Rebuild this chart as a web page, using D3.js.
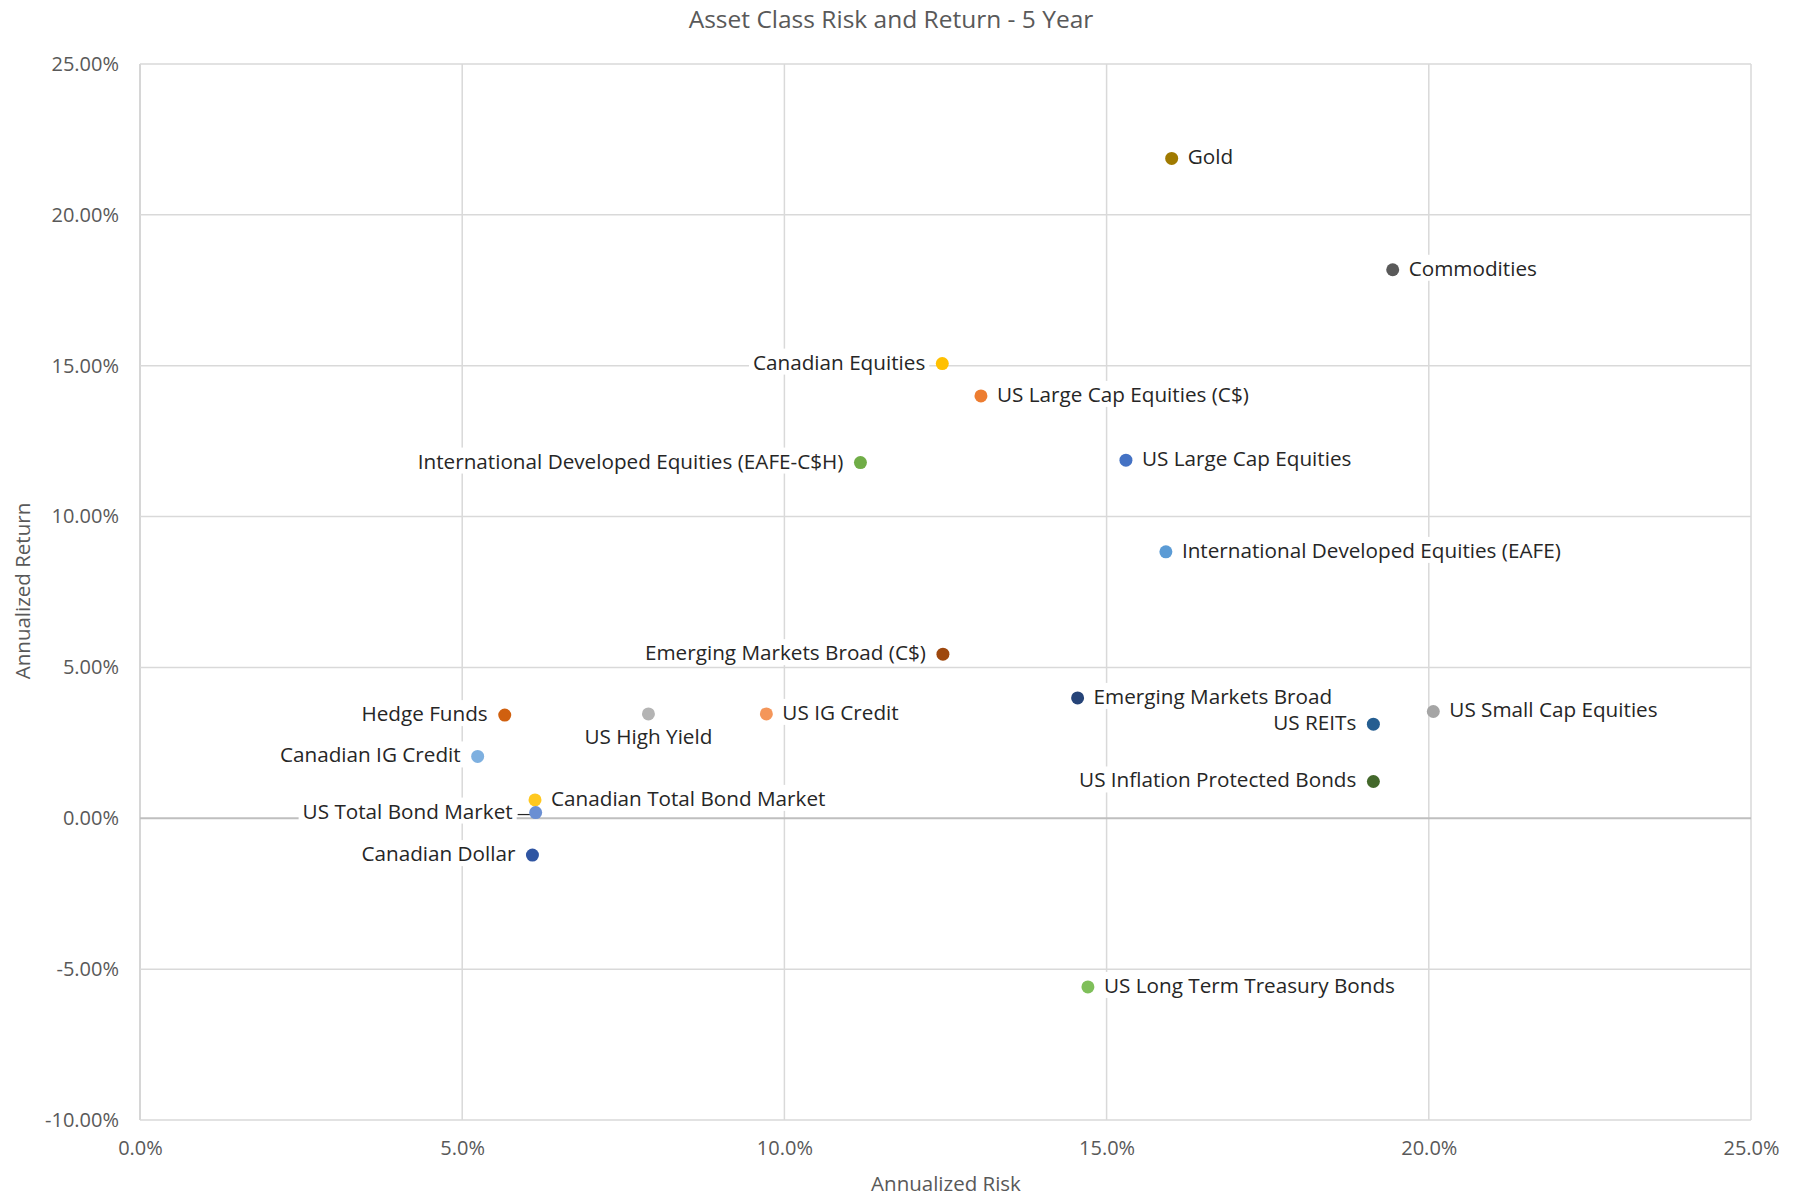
<!DOCTYPE html>
<html>
<head>
<meta charset="utf-8">
<script src="https://cdn.jsdelivr.net/npm/d3@7"></script>
<style>
  html, body { margin: 0; padding: 0; background: #fff; }
  svg { display: block; font-family: "Open Sans", "Noto Sans", sans-serif; }
</style>
</head>
<body>
<svg id="chart" width="1799" height="1196"></svg>
<script>
// ---- Data ----
const assetNames = [
  "Gold", "Commodities", "Canadian Equities", "US Large Cap Equities (C$)",
  "International Developed Equities (EAFE-C$H)", "US Large Cap Equities",
  "International Developed Equities (EAFE)", "Emerging Markets Broad (C$)",
  "Emerging Markets Broad", "US Small Cap Equities", "US REITs",
  "US Inflation Protected Bonds", "US Long Term Treasury Bonds", "Hedge Funds",
  "US High Yield", "US IG Credit", "Canadian IG Credit",
  "Canadian Total Bond Market", "US Total Bond Market", "Canadian Dollar"
];
const riskValues = [16.01, 19.44, 12.45, 13.05, 11.18, 15.30, 15.92, 12.46, 14.55, 20.07,
                    19.14, 19.14, 14.71, 5.66, 7.89, 9.72, 5.24, 6.13, 6.14, 6.09];
const returnValues = [21.87, 18.18, 15.07, 14.00, 11.79, 11.87, 8.83, 5.44, 3.99, 3.54,
                      3.12, 1.22, -5.59, 3.42, 3.46, 3.46, 2.05, 0.61, 0.19, -1.22];
const labelSides = ["right", "right", "left", "right", "left", "right", "right", "left",
                    "right", "right", "left", "left", "right", "left", "below", "right",
                    "left", "right", "leader", "left"];
const pointColors = ["#A07A00", "#595959", "#FFC000", "#ED7D31", "#70AD47", "#4472C4",
                     "#5B9BD5", "#9E480E", "#264478", "#A5A5A5", "#255E91", "#43682B",
                     "#7FBF5A", "#D0600F", "#B4B4B4", "#F4965A", "#7EB0E0", "#FFC820",
                     "#6A8FD3", "#2F55A2"];
const xTicks = [0, 5, 10, 15, 20, 25];
const yTicks = [-10, -5, 0, 5, 10, 15, 20, 25];
const chartTitle = "Asset Class Risk and Return - 5 Year";
const xTitle = "Annualized Risk";
const yTitle = "Annualized Return";

// ---- Layout ----
const W = 1799, H = 1196;
const margin = { left: 140, right: 48, top: 64, bottom: 76 };
const svg = d3.select("#chart");

const x = d3.scaleLinear().domain([0, 25]).range([margin.left, W - margin.right]);
const y = d3.scaleLinear().domain([-10, 25]).range([H - margin.bottom, margin.top]);

const data = assetNames.map((n, i) => ({
  name: n, risk: riskValues[i], ret: returnValues[i], side: labelSides[i], color: pointColors[i]
}));

// gridlines
const grid = svg.append("g");
grid.selectAll("line.v").data(xTicks).join("line")
  .attr("x1", d => x(d)).attr("x2", d => x(d))
  .attr("y1", y(25)).attr("y2", y(-10))
  .attr("stroke", d => d === 0 ? "#C8C8C8" : "#D9D9D9").attr("stroke-width", 1.5);
grid.selectAll("line.h").data(yTicks).join("line")
  .attr("x1", x(0)).attr("x2", x(25))
  .attr("y1", d => y(d)).attr("y2", d => y(d))
  .attr("stroke", d => d === 0 ? "#BFBFBF" : "#D9D9D9").attr("stroke-width", d => d === 0 ? 2 : 1.5);

// axes (labels only)
const pct = (digits) => d => d3.format("." + digits + "f")(d).replace("\u2212", "-") + "%";
const xAxis = d3.axisBottom(x).tickValues(xTicks).tickFormat(pct(1)).tickSize(0).tickPadding(21);
const yAxis = d3.axisLeft(y).tickValues(yTicks).tickFormat(pct(2)).tickSize(0).tickPadding(21);
const gx = svg.append("g").attr("transform", `translate(0,${y(-10)})`).call(xAxis);
const gy = svg.append("g").attr("transform", `translate(${x(0)},0)`).call(yAxis);
[gx, gy].forEach(g => {
  g.select(".domain").remove();
  g.selectAll("text").attr("fill", "#595959").style("font-size", "20px")
    .style("font-family", '"Open Sans", sans-serif');
});

// titles
svg.append("text").attr("x", 891).attr("y", 18).attr("text-anchor", "middle")
  .attr("dominant-baseline", "central").attr("fill", "#595959").style("font-size", "24.5px")
  .text(chartTitle);
svg.append("text").attr("x", 946).attr("y", 1191).attr("text-anchor", "middle")
  .attr("fill", "#595959").style("font-size", "20.5px")
  .text(xTitle);
svg.append("text").attr("transform", "translate(22,591) rotate(-90)").attr("text-anchor", "middle")
  .attr("dominant-baseline", "central").attr("fill", "#595959").style("font-size", "20.5px")
  .text(yTitle);

// labels
const labelLayer = svg.append("g");
const pointLayer = svg.append("g");
data.forEach(d => {
  const px = x(d.risk), py = y(d.ret);
  const g = labelLayer.append("g");
  let tx = px, ty = py - 2, anchor = "start";
  if (d.side === "right") { tx = px + 16; anchor = "start"; }
  else if (d.side === "left") { tx = px - 17; anchor = "end"; }
  else if (d.side === "below") { ty = py + 22; anchor = "middle"; }
  else if (d.side === "leader") { tx = px - 23; anchor = "end"; }
  const t = g.append("text").attr("x", tx).attr("y", ty).attr("text-anchor", anchor)
    .attr("dominant-baseline", "central").attr("fill", "#262626").style("font-size", "20.7px")
    .text(d.name);
  const bb = t.node().getBBox();
  g.insert("rect", "text").attr("x", bb.x - 4).attr("y", bb.y + 1).attr("width", bb.width + 8)
    .attr("height", bb.height - 2).attr("fill", "#fff");
  if (d.side === "leader") {
    g.append("line").attr("x1", tx + 5).attr("x2", px).attr("y1", py + 2).attr("y2", py + 2)
      .attr("stroke", "#262626").attr("stroke-width", 1.2);
  }
  pointLayer.append("circle").attr("cx", px).attr("cy", py).attr("r", 6.5).attr("fill", d.color);
});
</script>
</body>
</html>
